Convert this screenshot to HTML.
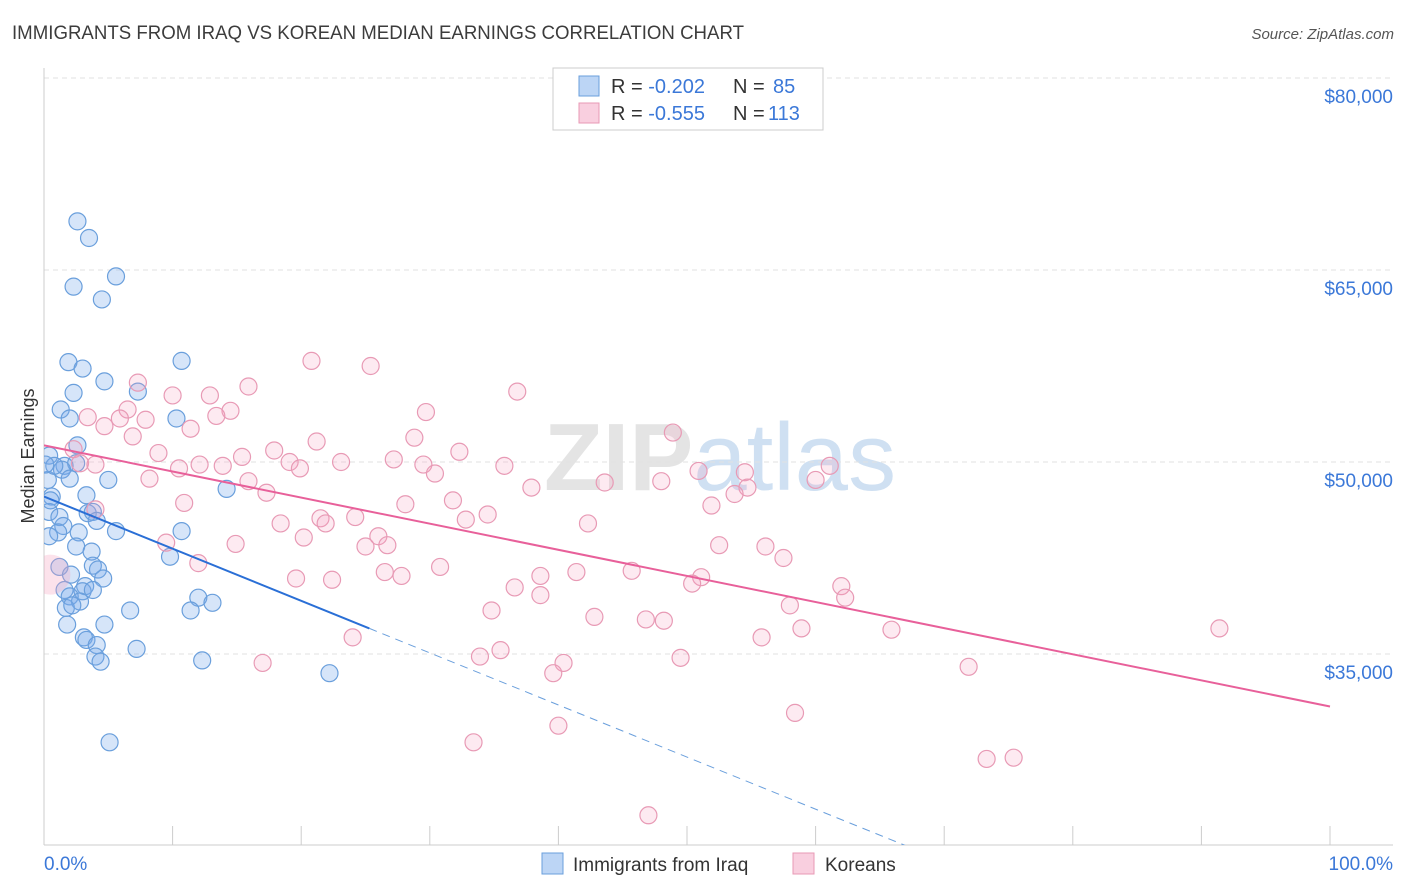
<!DOCTYPE html>
<html><head><meta charset="utf-8"><style>
html,body{margin:0;padding:0;background:#fff;font-family:"Liberation Sans",sans-serif;overflow:hidden;width:1406px;height:892px}
svg{display:block}
svg text{font-family:"Liberation Sans",sans-serif}
</style></head><body>
<svg id="chart" width="1406" height="892" viewBox="0 0 1406 892" xmlns="http://www.w3.org/2000/svg">
<text x="12" y="39" font-size="19" fill="#3c3c3c" textLength="732" lengthAdjust="spacingAndGlyphs">IMMIGRANTS FROM IRAQ VS KOREAN MEDIAN EARNINGS CORRELATION CHART</text>
<text x="1394" y="39" font-size="15" fill="#555" text-anchor="end" font-style="italic">Source: ZipAtlas.com</text>
<text x="720" y="490" font-size="96" fill="#e4e4e4" text-anchor="middle" font-family="Liberation Serif" font-weight="bold">ZIP<tspan font-family="Liberation Sans" font-weight="normal" fill="#cfe0f2">atlas</tspan></text>
<g id="grid"></g>
<g id="axes"></g>
<text transform="translate(34,456) rotate(-90)" font-size="18" fill="#333" text-anchor="middle">Median Earnings</text>
<defs><clipPath id="plotclip"><rect x="44" y="68" width="1350" height="777"/></clipPath></defs>
<g id="marks" clip-path="url(#plotclip)"></g>
<g>
<rect x="553" y="68" width="270" height="62" fill="#fff" stroke="#ccc"/>
<rect x="579" y="76" width="20" height="20" fill="#bcd5f5" stroke="#6a9fdc"/>
<rect x="579" y="103" width="20" height="20" fill="#f9cfdf" stroke="#e89ab5"/>
<text x="611" y="93" font-size="20" fill="#333">R = <tspan fill="#3b78d8">-0.202</tspan></text>
<text x="733" y="93" font-size="20" fill="#333">N = </text>
<text x="773" y="93" font-size="20" fill="#3b78d8">85</text>
<text x="611" y="120" font-size="20" fill="#333">R = <tspan fill="#3b78d8">-0.555</tspan></text>
<text x="733" y="120" font-size="20" fill="#333">N = </text>
<text x="768" y="120" font-size="20" fill="#3b78d8">113</text>
</g>
<g>
<rect x="542" y="853" width="21" height="21" fill="#bcd5f5" stroke="#6a9fdc"/>
<text x="573" y="871" font-size="19" fill="#333">Immigrants from Iraq</text>
<rect x="793" y="853" width="21" height="21" fill="#f9cfdf" stroke="#e89ab5"/>
<text x="825" y="871" font-size="19" fill="#333">Koreans</text>
</g>
<text x="44" y="870" font-size="19" fill="#3b78d8">0.0%</text>
<text x="1393" y="870" font-size="19" fill="#3b78d8" text-anchor="end">100.0%</text>
</svg>
<script>
const yTicks=[35000,50000,65000,80000];
const yTickLabels=["$35,000","$50,000","$65,000","$80,000"];
const xTicks=[0,10,20,30,40,50,60,70,80,90,100];
const iraqX=[2.6,3.5,5.6,2.3,4.5,1.9,10.7,3.0,4.7,2.3,7.3,1.3,2.0,10.3,2.6,0.4,1.6,2.5,1.4,0.3,2.0,5.0,0.6,3.3,14.2,0.4,1.2,3.4,3.8,4.1,1.5,1.1,2.7,5.6,0.4,10.7,2.5,3.7,9.8,1.2,3.8,2.1,4.2,4.6,3.2,1.6,3.0,2.0,3.8,2.8,12.0,13.1,1.7,2.2,6.7,11.4,1.8,4.7,3.1,3.3,4.1,7.2,4.0,4.4,12.3,22.2,5.1,0.8,0.1,0.5];
const iraqY=[68.8,67.5,64.5,63.7,62.7,57.8,57.9,57.3,56.3,55.4,55.5,54.1,53.4,53.4,51.3,50.5,49.7,49.9,49.4,48.6,48.7,48.6,47.3,47.4,47.9,46.1,45.7,46.0,46.1,45.4,45.0,44.5,44.5,44.6,44.2,44.6,43.4,43.0,42.6,41.8,41.9,41.2,41.6,40.9,40.3,40.0,39.9,39.5,40.0,39.1,39.4,39.0,38.6,38.8,38.4,38.4,37.3,37.3,36.3,36.1,35.7,35.4,34.8,34.4,34.5,33.5,28.1,49.7,49.8,47.0];
const korX=[7.3,15.9,20.8,25.4,36.8,10.0,12.9,14.5,6.5,3.4,7.9,5.9,29.7,13.4,4.7,11.4,6.9,21.2,28.8,2.3,8.9,15.4,32.3,48.9,2.8,4.0,10.5,13.9,12.1,17.9,19.1,23.1,19.9,27.2,29.5,30.4,35.8,50.9,54.5,61.1,8.2,15.9,43.6,48.0,60.0,37.9,54.7,17.3,10.9,28.1,31.8,53.7,51.9,21.5,21.9,24.2,32.8,34.5,42.3,4.0,18.4,20.2,14.9,26.0,26.7,25.0,52.5,56.1,57.5,9.5,12.0,19.6,22.4,26.5,27.8,30.8,38.6,41.4,45.7,51.1,50.4,36.6,38.6,62.0,62.3,34.8,42.8,46.8,48.2,58.0,58.9,65.9,91.4,55.8,24.0,35.5,33.9,17.0,40.4,39.6,49.5,71.9,58.4,40.0,33.4,73.3,75.4,47.0];
const korY=[56.2,55.9,57.9,57.5,55.5,55.2,55.2,54.0,54.1,53.5,53.3,53.4,53.9,53.6,52.8,52.6,52.0,51.6,51.9,51.0,50.7,50.4,50.8,52.3,49.9,49.8,49.5,49.7,49.8,50.9,50.0,50.0,49.5,50.2,49.8,49.1,49.7,49.3,49.2,49.7,48.7,48.5,48.4,48.5,48.6,48.0,48.0,47.6,46.8,46.7,47.0,47.5,46.6,45.6,45.2,45.7,45.5,45.9,45.2,46.3,45.2,44.1,43.6,44.2,43.5,43.4,43.5,43.4,42.5,43.7,42.1,40.9,40.8,41.4,41.1,41.8,41.1,41.4,41.5,41.0,40.5,40.2,39.6,40.3,39.4,38.4,37.9,37.7,37.6,38.8,37.0,36.9,37.0,36.3,36.3,35.3,34.8,34.3,34.3,33.5,34.7,34.0,30.4,29.4,28.1,26.8,26.9,22.4];
const iraqTrendX=[0,25.3,100];
const iraqTrendY=[47.3,37.0,6.6];
const korTrendX=[0,100];
const korTrendY=[51.3,30.9];
const NS="http://www.w3.org/2000/svg";
const X=p=>44+p*12.86;
const Y=v=>654-(v-35000)*0.0128;
const Yk=k=>Y(k*1000);
const grid=document.getElementById('grid'),axes=document.getElementById('axes'),marks=document.getElementById('marks');
function mk(tag,attrs,parent){const e=document.createElementNS(NS,tag);for(const k in attrs)e.setAttribute(k,attrs[k]);parent.appendChild(e);return e;}
yTicks.forEach((t,i)=>{
 const l=mk('line',{x1:44,x2:1393,y1:Y(t),y2:Y(t),stroke:'#e2e2e2','stroke-dasharray':'5,4'},grid);
 
 
 const tx=mk('text',{x:1393,y:Y(t)+25,'font-size':19,fill:'#3b78d8','text-anchor':'end'},axes);
 tx.textContent=yTickLabels[i];
 
 
});
const yl=mk('line',{x1:44,x2:44,y1:68,y2:845,stroke:'#ccc'},axes);


const xl=mk('line',{x1:44,x2:1393,y1:845,y2:845,stroke:'#ccc'},axes);


xTicks.forEach(t=>{
 const l=mk('line',{x1:X(t),x2:X(t),y1:826,y2:845,stroke:'#ccc'},axes);
 
 
});
function pts(xs,ys,fill,stroke,name){
 xs.forEach((x,i)=>{
  const c=mk('circle',{cx:X(x),cy:Yk(ys[i]),r:8.5,fill:fill,stroke:stroke,'stroke-width':1.2},marks);
  
  
 });
}
pts(iraqX,iraqY,'rgba(120,170,235,0.3)','#6a9fdc','iraq-point');
pts(korX,korY,'rgba(245,160,190,0.22)','#e89ab5','korean-point');
const blob=mk('circle',{cx:X(0.5),cy:Yk(41.2),r:20,fill:'rgba(245,160,190,0.3)',stroke:'none'},marks);


const bs=mk('line',{x1:X(iraqTrendX[0]),y1:Yk(iraqTrendY[0]),x2:X(iraqTrendX[1]),y2:Yk(iraqTrendY[1]),stroke:'#2a6fd6','stroke-width':2},marks);


const bd=mk('line',{x1:X(iraqTrendX[1]),y1:Yk(iraqTrendY[1]),x2:X(iraqTrendX[2]),y2:Yk(iraqTrendY[2]),stroke:'#6a9fdc','stroke-width':1,'stroke-dasharray':'8,6'},marks);


const pl=mk('line',{x1:X(korTrendX[0]),y1:Yk(korTrendY[0]),x2:X(korTrendX[1]),y2:Yk(korTrendY[1]),stroke:'#e8609a','stroke-width':2},marks);


</script>
</body></html>
